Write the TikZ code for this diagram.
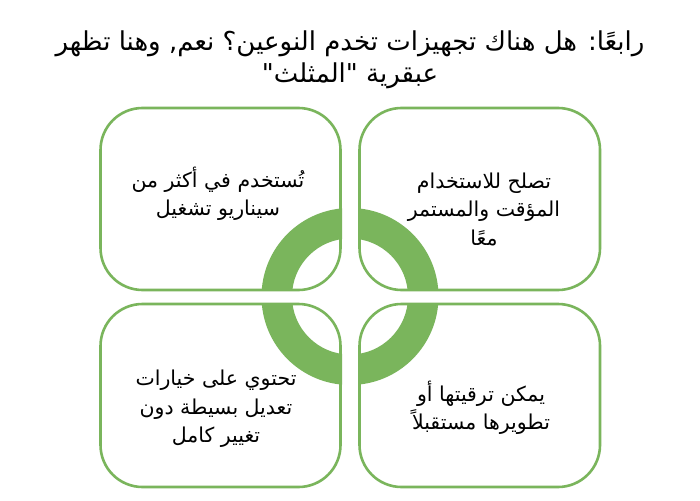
\documentclass[tikz,border=0pt]{standalone}
\usepackage{fontspec}
\TeXXeTstate=1
\newfontfamily\arabicfont[Script=Arabic]{DejaVu Sans}
\definecolor{grn}{HTML}{7AB55C}
\tikzset{
  card/.style={draw=grn, line width=2.6pt, fill=white, rounded corners=42pt},
  cardtext/.style={font=\arabicfont\fontsize{20.5}{28.5}\selectfont, align=center, text=black},
  titletext/.style={font=\arabicfont\fontsize{26}{32}\selectfont, align=center, text=black}
}
\begin{document}
\begin{tikzpicture}[x=1pt,y=-1pt]
\useasboundingbox (0,0) rectangle (700,500);
\fill[white] (0,0) rectangle (700,500);
% title
\node[titletext] (title) at (350,60) {\beginR رابعًا: هل هناك تجهيزات تخدم النوعين؟ نعم, وهنا تظهر\endR\\ \beginR عبقرية "المثلث"\endR};
% cards
\draw[card] (100.5,108) rectangle (340.5,290);
\draw[card] (359.5,108) rectangle (600,290);
\draw[card] (100.5,304) rectangle (340.5,487);
\draw[card] (359.5,304) rectangle (600,487);
% ring
\coordinate (c) at (350,296.5);
\foreach \xa/\xb/\ya/\yb in {250/342/190/290, 358/450/190/290, 250/342/303/400, 358/450/303/400}{
  \begin{scope}
    \clip (\xa,\ya) rectangle (\xb,\yb);
    \fill[grn, even odd rule] (c) circle (88.5pt) (c) circle (58pt);
  \end{scope}
}
% texts
\node[cardtext] (t1) at (218,194) {\beginR تُستخدم في أكثر من\endR\\ \beginR سيناريو تشغيل\endR};
\node[cardtext] (t2) at (484,209) {\beginR تصلح للاستخدام\endR\\ \beginR المؤقت والمستمر\endR\\ \beginR معًا\endR};
\node[cardtext] (t3) at (216,409) {\beginR تحتوي على خيارات\endR\\ \beginR تعديل بسيطة دون\endR\\ \beginR تغيير كامل\endR};
\node[cardtext] (t4) at (481,408) {\beginR يمكن ترقيتها أو\endR\\ \beginR تطويرها مستقبلاً\endR};
\end{tikzpicture}
\end{document}
